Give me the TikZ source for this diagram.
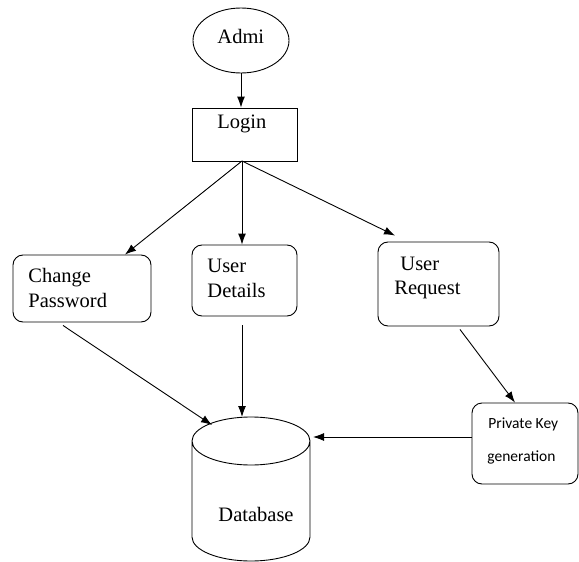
\documentclass[tikz,border=0pt]{standalone}
\usepackage{fontspec}
\setmainfont{Liberation Serif}
\newfontfamily\calfont{Carlito}
\usetikzlibrary{arrows.meta,calc,shapes.geometric}
\begin{document}
\begin{tikzpicture}[x=1pt,y=-1pt,
  line width=0.9pt,
  arr/.style={-{Latex[length=11pt,width=8pt]}},
  rbox/.style={draw,rounded corners=10pt,inner sep=0pt},
  sqbox/.style={draw,inner sep=0pt},
  lbl/.style={anchor=base west,inner sep=0pt,font=\fontsize{20.5}{25}\selectfont},
  slbl/.style={anchor=base west,inner sep=0pt,font=\calfont\fontsize{15.5}{18}\selectfont}]
\useasboundingbox (0,0) rectangle (579,562);
% shapes
\node[draw,ellipse,minimum width=96,minimum height=65,inner sep=0pt] (admi) at (241,40.5) {};
\node[sqbox,minimum width=105,minimum height=53] (login) at (244.5,134.5) {};
\node[rbox,minimum width=138,minimum height=67] (cp) at (82,288.5) {};
\node[rbox,minimum width=105,minimum height=71] (ud) at (244.5,280.5) {};
\node[rbox,minimum width=121,minimum height=84] (ur) at (438.5,284) {};
\node[rbox,minimum width=106,minimum height=81] (pk) at (525,443.5) {};
% database cylinder
\draw (192,441) arc[start angle=180,end angle=0,x radius=59,y radius=24]
      arc[start angle=0,end angle=-180,x radius=59,y radius=24] -- (192,537)
      arc[start angle=180,end angle=0,x radius=59,y radius=24] -- (310,441);
\coordinate (db1) at (212,425);
\coordinate (db2) at (242,417);
\coordinate (db3) at (313,437);
\coordinate (lo) at (242,161);
% texts
\node[lbl] (t1) at (217,43) {Admi};
\node[lbl] (t2) at (217,128) {Login};
\node[lbl] (t3) at (28,282) {Change};
\node[lbl] (t4) at (28,307) {Password};
\node[lbl] (t5) at (207,272) {User};
\node[lbl] (t6) at (207,297) {Details};
\node[lbl] (t7) at (400,270) {User};
\node[lbl] (t8) at (394,294) {Request};
\node[slbl] (t9) at (488,428) {Private Key};
\node[slbl] (t10) at (487,461) {generation};
\node[lbl] (t11) at (218,521) {Database};
% connectors
\draw[arr] (admi.south) -- (admi.south |- login.north);
\draw[arr] (lo) -- ([xshift=43pt]cp.north);
\draw[arr] (lo) -- (lo |- ud.north);
\draw[arr] (lo) -- ([xshift=-43.5pt,yshift=6pt]ur.north);
\draw[arr] ([xshift=-19pt,yshift=-3pt]cp.south) -- (db1);
\draw[arr] (db2 |- 0,325) -- (db2);
\draw[arr] ([xshift=21.5pt,yshift=-3pt]ur.south) -- ([xshift=-10pt]pk.north);
\draw[arr] (db3 -| pk.west) -- (db3);
\end{tikzpicture}
\end{document}
